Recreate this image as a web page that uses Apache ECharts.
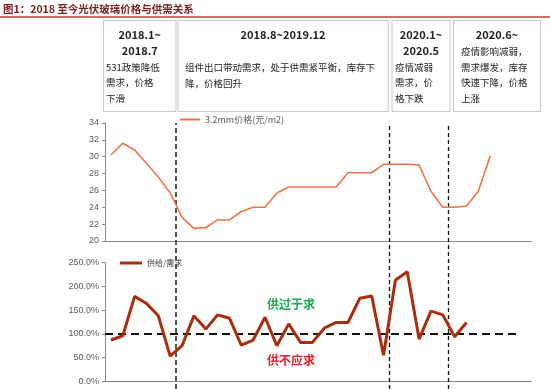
<!DOCTYPE html>
<html>
<head>
<meta charset="utf-8">
<script src="https://cdn.jsdelivr.net/npm/echarts@6/dist/echarts.min.js"></script>
<style>
html,body{margin:0;padding:0;background:#fff;}
#chart{width:550px;height:389px;}
</style>
</head>
<body>
<div id="chart"></div>
<script>
// Categories: months 2018.1 ~ 2020.12
const months = [];
for (let y = 2018; y <= 2020; y++) for (let m = 1; m <= 12; m++) months.push(y + '.' + m);

// 3.2mm glass price (yuan/m2)
const priceValues = [30.2, 31.6, 30.8, 29.2, 27.6, 25.7, 22.8, 21.5, 21.6, 22.5, 22.5, 23.5,
  24.0, 24.0, 25.7, 26.4, 26.4, 26.4, 26.4, 26.4, 28.1, 28.1, 28.1, 29.1,
  29.1, 29.1, 29.0, 25.9, 24.0, 24.0, 24.15, 25.9, 30.1];

// Supply / demand ratio (%)
const ratioValues = [87, 96, 179, 164, 138, 53, 75, 138, 110, 140, 133, 76,
  87, 135, 75, 121, 82, 82, 112, 124, 124, 175, 180, 55,
  213, 231, 89, 148, 140, 94, 124];

const priceTicks = { min: 20, max: 34, interval: 2 };
const ratioTicks = { min: 0, max: 250, interval: 50 };
const phaseBoundaries = [6, 24, 29];   // month boundaries between phases
const balanceLevel = 100;              // supply = demand
const balanceSpan = [0, 34.7];         // month range covered by the 100% reference line

const priceName = '3.2mm价格(元/m2)';
const ratioName = '供给/需求';

const chart = echarts.init(document.getElementById('chart'));
const FONT = '"Noto Sans CJK SC", "Noto Sans", sans-serif';
const axisLabelStyle = { color: '#595959', fontSize: 9, fontFamily: 'Liberation Sans, Arial, sans-serif' };

function boxText(text, x, y, bold, align) {
  return {
    type: 'text', silent: true,
    style: {
      text: text, x: x, y: y,
      font: (bold ? 'bold 11px ' : '9.5px ') + FONT,
      fill: '#222', textAlign: align || 'left', textVerticalAlign: 'middle'
    }
  };
}
function boxRect(x, w) {
  return { type: 'rect', silent: true, shape: { x: x, y: 20.5, width: w, height: 91 },
    style: { fill: 'none', stroke: '#C8C8C8', lineWidth: 1 } };
}

const option = {
  animation: false,
  backgroundColor: '#fff',
  grid: [
    { left: 105, right: 18.3, top: 123, height: 118 },
    { left: 105, right: 18.3, top: 262.7, height: 118.6 },
    { left: 105, right: 18.3, top: 123, bottom: 0 }
  ],
  legend: [
    { data: [{ name: priceName, icon: 'rect' }], left: 175, top: 110, itemWidth: 20, itemHeight: 2,
      itemGap: 3, textStyle: { color: '#595959', fontSize: 9, fontFamily: FONT }, selectedMode: false },
    { data: [{ name: ratioName, icon: 'rect' }], left: 115, top: 254, itemWidth: 22, itemHeight: 3,
      itemGap: 2, textStyle: { color: '#333', fontSize: 8, fontFamily: FONT }, selectedMode: false }
  ],
  xAxis: [
    { type: 'category', gridIndex: 0, data: months, boundaryGap: true,
      axisLine: { lineStyle: { color: '#898989' } },
      axisTick: { inside: true, length: 3, lineStyle: { color: '#898989' } },
      axisLabel: { show: false } },
    { type: 'category', gridIndex: 1, data: months, boundaryGap: true,
      axisLine: { lineStyle: { color: '#898989' } },
      axisTick: { inside: true, length: 3, lineStyle: { color: '#898989' } },
      axisLabel: { show: false } },
    { type: 'value', gridIndex: 2, min: 0, max: months.length, show: false },
    { type: 'value', gridIndex: 1, min: 0, max: months.length, show: false }
  ],
  yAxis: [
    { type: 'value', gridIndex: 0, min: priceTicks.min, max: priceTicks.max, interval: priceTicks.interval,
      splitLine: { show: false },
      axisLine: { show: true, lineStyle: { color: '#898989' } },
      axisTick: { show: true, length: 3, lineStyle: { color: '#898989' } },
      axisLabel: Object.assign({ margin: 6 }, axisLabelStyle) },
    { type: 'value', gridIndex: 1, min: ratioTicks.min, max: ratioTicks.max, interval: ratioTicks.interval,
      splitLine: { show: false },
      axisLine: { show: true, lineStyle: { color: '#898989' } },
      axisTick: { show: true, length: 3, lineStyle: { color: '#898989' } },
      axisLabel: Object.assign({ margin: 6, formatter: v => v.toFixed(1) + '%' }, axisLabelStyle) },
    { type: 'value', gridIndex: 2, min: 0, max: 1, show: false }
  ],
  series: [
    { name: priceName, type: 'line', xAxisIndex: 0, yAxisIndex: 0, data: priceValues,
      symbol: 'none', color: '#F2734A', lineStyle: { width: 1.6, color: '#F2734A' }, z: 5 },
    { name: ratioName, type: 'line', xAxisIndex: 1, yAxisIndex: 1, data: ratioValues,
      symbol: 'none', color: '#AA2E0C', lineStyle: { width: 3, color: '#AA2E0C' }, z: 5 },
    { type: 'line', xAxisIndex: 2, yAxisIndex: 2, data: [], symbol: 'none', silent: true,
      markLine: { silent: true, symbol: 'none', label: { show: false },
        data: phaseBoundaries.map((b, i) => ({
          xAxis: b,
          lineStyle: i === 0 ? { type: [5, 3], width: 2, color: '#555' } : { type: [4, 3], width: 1.3, color: '#111' }
        })) } },
    { type: 'line', xAxisIndex: 3, yAxisIndex: 1, data: [], symbol: 'none', silent: true,
      markLine: { silent: true, symbol: 'none', label: { show: false },
        lineStyle: { type: [8, 5], width: 2, color: '#111' },
        data: [[{ coord: [balanceSpan[0], balanceLevel] }, { coord: [balanceSpan[1], balanceLevel] }]] } }
  ],
  graphic: [
    { type: 'text', silent: true, style: { text: '图1：2018 至今光伏玻璃价格与供需关系', x: 3, y: 9,
      font: 'bold 10.5px ' + FONT, fill: '#7A1E1E', textVerticalAlign: 'middle' } },
    { type: 'line', silent: true, shape: { x1: 0, y1: 17, x2: 550, y2: 17 }, style: { stroke: '#B0483A', lineWidth: 1.5 } },
    boxRect(103.5, 72.5), boxRect(178, 210.3), boxRect(392, 58), boxRect(453.5, 87),
    boxText('2018.1~', 139.7, 35, true, 'center'),
    boxText('2018.7', 139.7, 51, true, 'center'),
    boxText('531政策降低', 106, 67), boxText('需求，价格', 106, 82.5), boxText('下滑', 106, 98),
    boxText('2018.8~2019.12', 283, 35, true, 'center'),
    boxText('组件出口带动需求，处于供需紧平衡，库存下', 185, 67), boxText('降，价格回升', 185, 83),
    boxText('2020.1~', 421, 35, true, 'center'),
    boxText('2020.5', 421, 51, true, 'center'),
    boxText('疫情减弱', 395, 67), boxText('需求，价', 395, 82.5), boxText('格下跌', 395, 98),
    boxText('2020.6~', 497, 35, true, 'center'),
    boxText('疫情影响减弱，', 461, 51), boxText('需求爆发，库存', 461, 67),
    boxText('快速下降，价格', 461, 82.5), boxText('上涨', 461, 98),
    { type: 'text', silent: true, style: { text: '供过于求', x: 267, y: 304, font: 'bold 12px ' + FONT,
      fill: '#1FA84F', textVerticalAlign: 'middle' } },
    { type: 'text', silent: true, style: { text: '供不应求', x: 267, y: 360, font: 'bold 12px ' + FONT,
      fill: '#E8212B', textVerticalAlign: 'middle' } }
  ]
};
chart.setOption(option);
</script>
</body>
</html>
